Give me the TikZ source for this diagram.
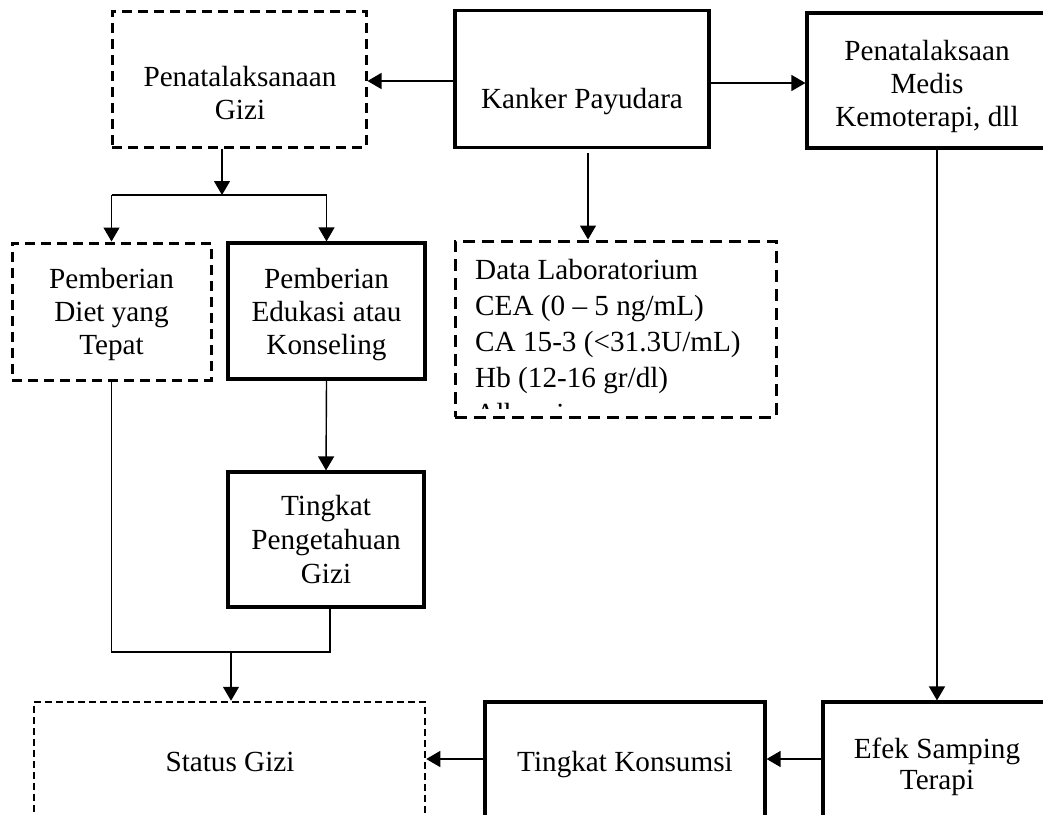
\documentclass[tikz,border=0pt]{standalone}
\usepackage{fontspec}
\setmainfont{Liberation Serif}
\usetikzlibrary{arrows.meta}
\newcommand{\mltext}[3][c]{{\fontsize{29.2}{#2}\selectfont\begin{tabular}[t]{@{}#1@{}}#3\end{tabular}}}
\tikzset{
  solidbox/.style={draw, line width=3.2pt, rectangle, inner sep=0pt},
  dashbox/.style={draw, line width=3pt, rectangle, inner sep=0pt, dash pattern=on 10pt off 6pt},
  txt/.style={anchor=base, inner sep=0pt, font=\fontsize{29.2}{33}\selectfont},
  conn/.style={line width=1.4pt},
  arr/.style={line width=1.4pt, -{Triangle[length=14pt,width=16pt]}},
}
\begin{document}
\begin{tikzpicture}[x=1pt,y=-1pt]
\useasboundingbox (0,0) rectangle (1043,814);
\fill[white] (0,0) rectangle (1043,814);
\clip (0,0) rectangle (1043,814);

% boxes
\node[dashbox, minimum width=254pt, minimum height=136pt] (gizi) at (239,79) {};
\node[solidbox, minimum width=254pt, minimum height=137pt] (kanker) at (582,79) {};
\node[solidbox, minimum width=253pt, minimum height=135pt] (medis) at (933.5,80.5) {};
\node[dashbox, minimum width=199pt, minimum height=137pt] (diet) at (111.5,311.5) {};
\node[solidbox, minimum width=197pt, minimum height=136pt] (edu) at (326.5,311) {};
\node[dashbox, dash pattern=on 12pt off 7pt, minimum width=321pt, minimum height=176pt] (lab) at (615.5,329) {};
\node[solidbox, minimum width=196pt, minimum height=135pt] (tahu) at (326,539.5) {};
\node[dashbox, line width=2.5pt, dash pattern=on 7pt off 4pt, minimum width=391pt, minimum height=138pt] (status) at (229.5,771) {};
\node[solidbox, minimum width=280pt, minimum height=138pt] (konsumsi) at (625,771) {};
\node[solidbox, minimum width=237pt, minimum height=138pt] (efek) at (941.5,771) {};

% texts
\node[txt] (tgizi) at (240,86) {\mltext{33}{Penatalaksanaan\\Gizi}};
\node[txt] (tkanker) at (582,108) {Kanker Payudara};
\node[txt] (tmedis) at (927,60) {\mltext{33}{Penatalaksaan\\Medis\\Kemoterapi, dll}};
\node[txt] (tdiet) at (111.5,288) {\mltext{33}{Pemberian\\Diet yang\\Tepat}};
\node[txt] (tedu) at (326.5,288) {\mltext{33}{Pemberian\\Edukasi atau\\Konseling}};
\node[txt] (ttahu) at (326,515) {\mltext{34}{Tingkat\\Pengetahuan\\Gizi}};
\node[txt] (tstatus) at (230,771) {Status Gizi};
\node[txt] (tkonsumsi) at (625,771) {Tingkat Konsumsi};
\node[txt] (tefek) at (937,758) {\mltext{31}{Efek Samping\\Terapi}};
\begin{scope}
\clip (456,242) rectangle (775,408);
\node[txt, anchor=base west] (tlab) at (475,279) {\mltext[l]{36}{Data Laboratorium\\CEA (0 -- 5 ng/mL)\\CA 15-3 (<31.3U/mL)\\Hb (12-16 gr/dl)\\Albumin}};
\end{scope}

% connectors
\coordinate (split) at (222,195);
\coordinate (kl) at (588,0);
\coordinate (merge) at (231,652);
\coordinate (tb) at (330,0);
\coordinate (me) at (937,0);
\coordinate (hz) at (0,759);

\draw[arr] (kanker.west |- 0,81) -- (gizi.east |- 0,81);
\draw[arr] (kanker.east |- 0,83) -- (medis.west |- 0,83);
\draw[arr] (gizi.south -| split) -- (split);
\draw[conn] (diet.north |- split) -- (edu.north |- split);
\draw[arr] (diet.north |- split) -- (diet.north);
\draw[arr] (edu.north |- split) -- (edu.north);
\draw[arr, shorten <=4pt] (kanker.south -| kl) -- (lab.north -| kl);
\draw[arr] (edu.south) -- (tahu.north);
\draw[conn] (diet.south) -- (diet.south |- merge) -- (tb |- merge) -- (tahu.south -| tb);
\draw[arr] (merge) -- (status.north -| merge);
\draw[arr] (medis.south -| me) -- (efek.north -| me);
\draw[arr] (efek.west |- hz) -- (konsumsi.east |- hz);
\draw[arr] (konsumsi.west |- hz) -- (status.east |- hz);
\end{tikzpicture}
\end{document}
